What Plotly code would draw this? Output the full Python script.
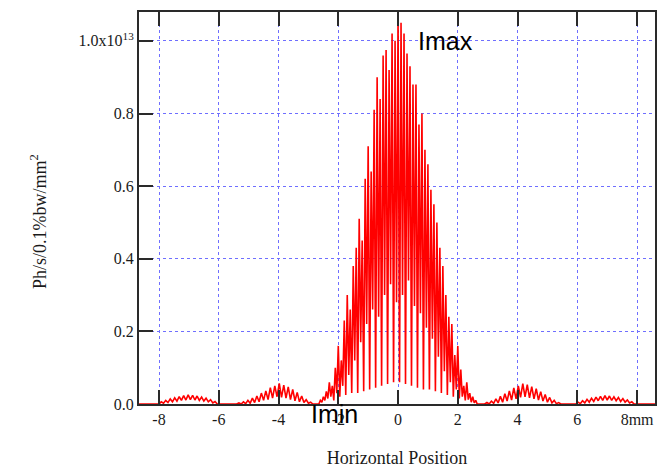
import plotly.graph_objects as go

# ---- data (intensity in units of 1e13 Ph/s/0.1%bw/mm^2) ----
# central fringe: alternating trough / peak samples, x from -2.65 step 0.05
central_start = -2.65
central_step = 0.05
central_troughs = [0.0, 0.005, 0.01, 0.015, 0.02, 0.01, 0.03, 0.02, 0.05, 0.025,
                   0.08, 0.03, 0.12, 0.03, 0.17, 0.035, 0.22, 0.04, 0.26, 0.045,
                   0.24, 0.05, 0.30, 0.055, 0.33, 0.06, 0.28,
                   0.06, 0.30, 0.055, 0.34, 0.05, 0.27, 0.045, 0.25, 0.04, 0.21,
                   0.04, 0.18, 0.035, 0.13, 0.03, 0.09, 0.025, 0.06, 0.02, 0.04,
                   0.015, 0.02, 0.01, 0.012, 0.005, 0.003, 0.0]
central_peaks = [0.01, 0.02, 0.035, 0.06, 0.05, 0.10, 0.16, 0.12, 0.23, 0.30,
                 0.26, 0.38, 0.43, 0.51, 0.45, 0.62, 0.71, 0.64, 0.81, 0.90,
                 0.84, 0.96, 0.975, 0.92, 1.02, 1.00,
                 1.07,
                 1.05, 1.02, 0.965, 0.93, 0.88, 0.88, 0.77, 0.80, 0.70, 0.66,
                 0.59, 0.55, 0.50, 0.43, 0.38, 0.30, 0.24, 0.22, 0.135, 0.16,
                 0.095, 0.05, 0.06, 0.03, 0.02, 0.01]

# first side lobes (alternating trough/peak), step 0.075
lobe_step = 0.075
left_lobe_start = -5.4
left_lobe = [0.0, 0.003, 0.0, 0.006, 0.001, 0.010, 0.002, 0.016, 0.004, 0.022,
             0.006, 0.030, 0.010, 0.036, 0.012, 0.045, 0.016, 0.050, 0.020, 0.057,
             0.018, 0.052, 0.016, 0.047, 0.012, 0.040, 0.009, 0.032, 0.006, 0.022,
             0.004, 0.012, 0.002, 0.005, 0.0]
right_lobe_start = 2.9
right_lobe = [0.0, 0.004, 0.0, 0.008, 0.002, 0.014, 0.003, 0.021, 0.005, 0.028,
              0.008, 0.036, 0.011, 0.044, 0.014, 0.050, 0.018, 0.056, 0.020, 0.053,
              0.017, 0.048, 0.014, 0.042, 0.011, 0.034, 0.008, 0.026, 0.005, 0.018,
              0.003, 0.010, 0.001, 0.004, 0.0]

# outer lobes, step 0.075
left_outer_start = -8.0
left_outer = [0.0, 0.006, 0.002, 0.010, 0.004, 0.014, 0.006, 0.017, 0.008, 0.020,
              0.010, 0.023, 0.011, 0.025, 0.012, 0.024, 0.011, 0.022, 0.010, 0.019,
              0.008, 0.016, 0.006, 0.012, 0.003, 0.007, 0.0]
right_outer_start = 5.95
right_outer = [0.0, 0.005, 0.001, 0.009, 0.003, 0.013, 0.005, 0.016, 0.007, 0.019,
               0.009, 0.021, 0.010, 0.023, 0.011, 0.022, 0.010, 0.020, 0.009, 0.018,
               0.007, 0.015, 0.005, 0.011, 0.003, 0.006, 0.0]

x_range = [-8.67, 8.6]
x_ticks = [-8, -6, -4, -2, 0, 2, 4, 6, 8]
x_ticktext = ["-8", "-6", "-4", "-2", "0", "2", "4", "6", "8mm"]
y_ticks = [0.0, 0.2, 0.4, 0.6, 0.8, 1.0]
y_ticktext = ["0.0", "0.2", "0.4", "0.6", "0.8", "1.0x10<sup>13</sup>"]

# ---- assemble the profile ----
def segment(start, step, vals):
    return [start + step * i for i in range(len(vals))], list(vals)

central_vals = []
for i in range(len(central_peaks)):
    central_vals.append(central_troughs[i])
    central_vals.append(central_peaks[i])
central_vals.append(central_troughs[-1])

xs, ys = [x_range[0] - 0.1], [0.0]
for st, sp, v in [(left_outer_start, lobe_step, left_outer),
                  (left_lobe_start, lobe_step, left_lobe),
                  (central_start, central_step, central_vals),
                  (right_lobe_start, lobe_step, right_lobe),
                  (right_outer_start, lobe_step, right_outer)]:
    sx, sy = segment(st, sp, v)
    xs += sx
    ys += sy
xs.append(x_range[1] + 0.1)
ys.append(0.0)

serif = "Liberation Serif, Times New Roman, serif"
sans = "Liberation Sans, Arial, sans-serif"
axis_col = "#2a2a2a"
grid_col = "#6f6fff"

fig = go.Figure()
fig.add_trace(go.Scatter(x=xs, y=ys, mode="lines",
                         line=dict(color="#ff0000", width=1.6),
                         showlegend=False, hoverinfo="skip"))

fig.update_layout(
    width=667, height=476,
    margin=dict(l=139, r=10, t=10, b=72),
    paper_bgcolor="white", plot_bgcolor="white",
    font=dict(family=serif, size=16, color="#1a1a1a"),
    xaxis=dict(range=x_range, tickvals=x_ticks, ticktext=x_ticktext,
               showline=True, linecolor=axis_col, linewidth=2, mirror="allticks",
               ticks="inside", ticklen=14, tickwidth=2, tickcolor=axis_col,
               showgrid=True, gridcolor=grid_col, gridwidth=1, griddash="dot",
               zeroline=False, tickfont=dict(family=serif, size=16),
               title=dict(text="Horizontal Position",
                          font=dict(family=serif, size=18), standoff=24)),
    yaxis=dict(range=[0, 1.0795], tickvals=y_ticks, ticktext=y_ticktext,
               showline=True, linecolor=axis_col, linewidth=2, mirror=True,
               ticks="inside", ticklen=14, tickwidth=2, tickcolor=axis_col,
               showgrid=True, gridcolor=grid_col, gridwidth=1, griddash="dot",
               zeroline=False, tickfont=dict(family=serif, size=16)),
    annotations=[
        dict(x=-0.22, y=0.467, xref="paper", yref="paper",
             text="Ph/s/0.1%bw/mm<sup>2</sup>", textangle=-90, showarrow=False,
             font=dict(family=serif, size=18, color="#1a1a1a")),
        dict(x=1.6, y=1.0, xref="x", yref="y", text="Imax", showarrow=False,
             xanchor="center", yanchor="middle",
             font=dict(family=sans, size=25, color="black")),
        dict(x=-2.13, y=-0.026, xref="x", yref="paper", text="Imin",
             showarrow=False, xanchor="center", yanchor="middle",
             font=dict(family=sans, size=25, color="black")),
    ],
)

fig.write_html("out.html")
